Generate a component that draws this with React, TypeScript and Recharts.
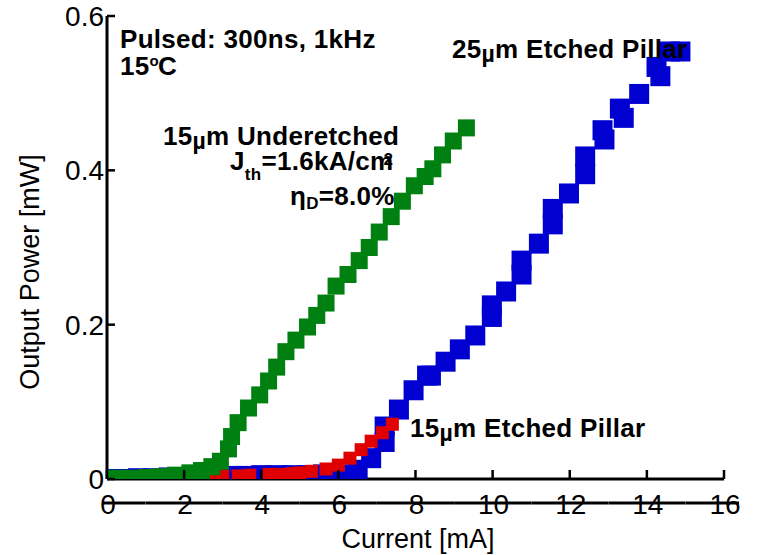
import { ScatterChart, Scatter, XAxis, YAxis } from 'recharts';

// 25um etched pillar (blue)
const blueCurrent = [0, 0.4, 0.8, 1.2, 1.6, 2.0, 2.4, 2.8, 3.2, 3.6, 4.0, 4.4, 4.8, 5.2, 5.6, 6.05, 6.5, 6.85, 7.2, 7.2, 7.57, 7.95, 8.3, 8.4, 8.78, 9.15, 9.55, 9.98, 9.98, 10.35, 10.75, 10.75, 11.2, 11.56, 11.56, 11.98, 12.4, 12.4, 12.85, 12.9, 13.3, 13.4, 13.8, 14.25, 14.35, 14.6, 14.87];
const bluePower = [0, 0, 0.001, 0.001, 0.002, 0.002, 0.003, 0.003, 0.004, 0.004, 0.005, 0.005, 0.005, 0.005, 0.006, 0.006, 0.012, 0.027, 0.048, 0.068, 0.09, 0.115, 0.134, 0.134, 0.152, 0.168, 0.186, 0.21, 0.225, 0.243, 0.265, 0.283, 0.305, 0.33, 0.35, 0.37, 0.395, 0.418, 0.452, 0.44, 0.48, 0.468, 0.499, 0.534, 0.522, 0.554, 0.554];

// 15um etched pillar (red)
const redCurrent = [0, 0.3, 0.7, 1.1, 1.4, 1.7, 2.1, 2.5, 2.8, 3.0, 3.4, 3.7, 4.2, 4.5, 4.8, 5.0, 5.3, 5.68, 6.0, 6.3, 6.59, 6.85, 7.14, 7.4];
const redPower = [0, 0, 0.001, 0.001, 0.002, 0.002, 0.002, 0.003, 0.003, 0.004, 0.004, 0.005, 0.006, 0.006, 0.007, 0.008, 0.01, 0.013, 0.018, 0.027, 0.038, 0.049, 0.06, 0.071];

// 15um underetched (green)
const greenCurrent = [0, 0.35, 0.7, 1.05, 1.4, 1.78, 2.15, 2.45, 2.72, 2.94, 3.15, 3.23, 3.4, 3.67, 3.96, 4.19, 4.4, 4.64, 4.9, 5.2, 5.44, 5.68, 5.94, 6.25, 6.54, 6.8, 7.06, 7.37, 7.66, 7.97, 8.25, 8.45, 8.7, 8.98, 9.32];
const greenPower = [0.001, 0.001, 0.001, 0.002, 0.003, 0.005, 0.008, 0.011, 0.016, 0.023, 0.039, 0.055, 0.073, 0.092, 0.109, 0.127, 0.145, 0.165, 0.18, 0.197, 0.212, 0.228, 0.25, 0.265, 0.283, 0.3, 0.32, 0.34, 0.36, 0.38, 0.392, 0.402, 0.42, 0.438, 0.455];

const xTicks = [0, 2, 4, 6, 8, 10, 12, 14, 16];
const yTicks = [0, 0.2, 0.4, 0.6];

const toPoints = (xs: number[], ys: number[]) => xs.map((x, i) => ({ x, y: ys[i] }));

const FONT = '"Liberation Sans", Arial, sans-serif';

const square = (size: number, color: string) => (props: any) => (
  <rect x={props.cx - size / 2} y={props.cy - size / 2} width={size} height={size} fill={color} />
);

const BottomTick = (props: any) => {
  const { x, y, payload } = props;
  const v = payload.value;
  const left = v === 0 ? x - 4 : x - 38.5;
  const right = v === 16 ? x + 15 : x + 38.5;
  return (
    <g>
      <line x1={x} x2={x} y1={y} y2={y - 9} stroke="#000" strokeWidth={2.5} />
      <text x={x + 1} y={y + 35} textAnchor="middle" fontSize={28} fontFamily={FONT} fill="#000">
        {v}
      </text>
      <line x1={left} x2={right} y1={y + 24} y2={y + 24} stroke="#000" strokeWidth={3} />
    </g>
  );
};

const LeftTick = (props: any) => {
  const { x, y, payload } = props;
  return (
    <g>
      <line x1={x} x2={x + 8} y1={y} y2={y} stroke="#000" strokeWidth={2.5} />
      <text x={x - 3} y={y + 10} textAnchor="end" fontSize={28} fontFamily={FONT} fill="#000">
        {payload.value}
      </text>
    </g>
  );
};

const RightTick = (props: any) => {
  const { x, y } = props;
  return <line x1={x} x2={x - 8} y1={y} y2={y} stroke="#000" strokeWidth={2.5} />;
};

const frame = { stroke: '#000', strokeWidth: 3 };

export default function App() {
  return (
    <div style={{ position: 'absolute', left: 0, top: 0, width: 758, height: 555, background: '#fff' }}>
      <ScatterChart width={758} height={555} margin={{ top: 16, right: 34, left: 0, bottom: 0 }}>
        <XAxis
          type="number"
          dataKey="x"
          domain={[0, 16]}
          ticks={xTicks}
          allowDataOverflow
          height={76}
          axisLine={frame}
          tickLine={false}
          tickSize={0}
          tickMargin={0}
          tick={<BottomTick />}
        />
        <XAxis xAxisId="t" type="number" orientation="top" domain={[0, 16]} height={0} axisLine={frame} tick={false} tickLine={false} />
        <YAxis
          type="number"
          dataKey="y"
          domain={[0, 0.6]}
          ticks={yTicks}
          allowDataOverflow
          width={107}
          axisLine={frame}
          tickLine={false}
          tickSize={0}
          tickMargin={0}
          tick={<LeftTick />}
        />
        <YAxis
          yAxisId="r"
          type="number"
          orientation="right"
          domain={[0, 0.6]}
          ticks={[0.2, 0.4]}
          width={0}
          axisLine={frame}
          tickLine={false}
          tickSize={0}
          tickMargin={0}
          tick={<RightTick />}
        />
        <Scatter data={toPoints(blueCurrent, bluePower)} shape={square(20, '#0000D0')} isAnimationActive={false} />
        <Scatter data={toPoints(redCurrent, redPower)} shape={square(13, '#E00000')} isAnimationActive={false} />
        <Scatter data={toPoints(greenCurrent, greenPower)} shape={square(17, '#008010')} isAnimationActive={false} />
      </ScatterChart>

      <svg width={758} height={555} style={{ position: 'absolute', left: 0, top: 0, pointerEvents: 'none' }}>
        <g fontFamily={FONT} fontWeight="bold" fontSize={26} letterSpacing={0.3} fill="#000">
          <text x={120} y={48}>Pulsed: 300ns, 1kHz</text>
          <text x={120} y={75}>
            15<tspan fontSize={15} dy={-9}>o</tspan>
            <tspan dx={-1} dy={9}>C</tspan>
          </text>
          <text x={163} y={145}>
            15<tspan fontSize={23} dy={4}>µ</tspan>
            <tspan dy={-4}>m Underetched</tspan>
          </text>
          <text x={230} y={170}>
            J<tspan fontSize={17} dy={10}>th</tspan>
            <tspan dy={-10}>=1.6kA/cm</tspan>
            <tspan fontSize={17} dx={-10} dy={-5}>2</tspan>
          </text>
          <text x={290} y={205}>
            η<tspan fontSize={17} dy={4}>D</tspan>
            <tspan dy={-4}>=8.0%</tspan>
          </text>
          <text x={452} y={58}>
            25<tspan fontSize={23} dy={4}>µ</tspan>
            <tspan dy={-4}>m Etched Pillar</tspan>
          </text>
          <text x={410} y={437}>
            15<tspan fontSize={23} dy={4}>µ</tspan>
            <tspan dy={-4}>m Etched Pillar</tspan>
          </text>
        </g>
        <g fontFamily={FONT} fontSize={27} fill="#000">
          <text x={418} y={548} textAnchor="middle">Current [mA]</text>
          <text transform="translate(39,272) rotate(-90)" textAnchor="middle">Output Power [mW]</text>
        </g>
      </svg>
    </div>
  );
}
